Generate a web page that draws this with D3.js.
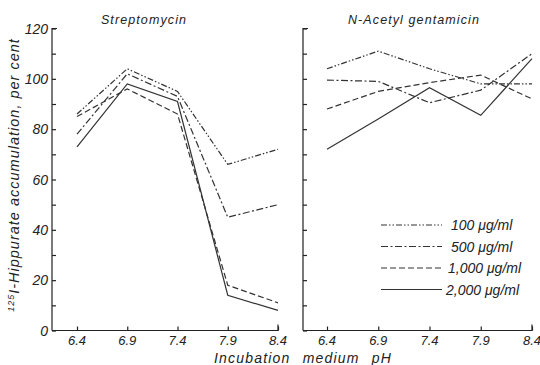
<!DOCTYPE html>
<html>
<head>
<meta charset="utf-8">
<script src="https://cdn.jsdelivr.net/npm/d3@7"></script>
<style>
  body { margin: 0; background: #fff; }
  text { font-family: "Liberation Sans", Arial, sans-serif; font-style: italic; fill: #222; }
  .axis path, .axis line { stroke: #222; stroke-width: 1.2; }
</style>
</head>
<body>
<div id="chart"></div>
<script>
const phLevels = [6.4, 6.9, 7.4, 7.9, 8.4];
const yTickLabels = [0, 20, 40, 60, 80, 100, 120];
const doses = ["100 \u03bcg/ml", "500 \u03bcg/ml", "1,000 \u03bcg/ml", "2,000 \u03bcg/ml"];
const dashes = ["6,2,1.5,2,1.5,2", "7,2.5,2,2.5", "6,3", null];

// Streptomycin, per cent by dose
const strepto100 = [86, 104, 95, 66, 72];
const strepto500 = [78, 102, 93, 45, 50];
const strepto1000 = [85, 96, 86, 18, 11];
const strepto2000 = [73, 98, 91, 14, 8];

// N-Acetyl gentamicin
const acetyl100 = [104, 111, 104, 98, 98];
const acetyl500 = [99.5, 99, 90.5, 95.5, 110];
const acetyl1000 = [88, 95, 98.5, 101.5, 92];
const acetyl2000 = [72, 84, 96.5, 85.5, 108];

const panels = [
  { title: "Streptomycin", series: [strepto100, strepto500, strepto1000, strepto2000],
    axisX: 52, range: [77, 278], titleX: 144, labels: true },
  { title: "N-Acetyl gentamicin", series: [acetyl100, acetyl500, acetyl1000, acetyl2000],
    axisX: 303, range: [327, 532], titleX: 414, labels: false }
];

const width = 540, height = 365;
const svg = d3.select("#chart").append("svg")
  .attr("width", width)
  .attr("height", height);

let yScale = d3.scaleLinear().domain([0, 120]).range([330.5, 28.5]);

panels.forEach(function(p) {
  let xScale = d3.scalePoint().domain(phLevels).range(p.range);

  // y axis, ticks pointing inward
  let yAxis = svg.append("g")
    .attr("class", "axis")
    .attr("transform", "translate(" + p.axisX + ",0)")
    .call(d3.axisRight(yScale).tickValues(d3.range(0, 121, 10)).tickSize(4).tickSizeOuter(0).tickFormat(""));
  yAxis.select(".domain").attr("d", "M0," + yScale(0) + "V" + yScale(120) + "H5");

  if (p.labels) {
    svg.append("g").selectAll("text")
      .data(yTickLabels)
      .enter().append("text")
      .attr("x", p.axisX - 4)
      .attr("y", function(d) { return yScale(d) + 5; })
      .attr("text-anchor", "end")
      .style("font-size", "14px")
      .text(function(d) { return d; });
  }

  // x axis
  let xAxis = svg.append("g")
    .attr("class", "axis")
    .attr("transform", "translate(0," + yScale(0) + ")")
    .call(d3.axisTop(xScale).tickSize(4).tickSizeOuter(0).tickFormat(""));
  xAxis.select(".domain").attr("d", "M" + p.axisX + ",0H" + p.range[1] + "V-6");

  svg.append("g").selectAll("text")
    .data(phLevels)
    .enter().append("text")
    .attr("x", function(d) { return xScale(d); })
    .attr("y", 345)
    .attr("text-anchor", "middle")
    .style("font-size", "13px")
    .text(function(d) { return d.toFixed(1); });

  svg.append("text")
    .attr("x", p.titleX)
    .attr("y", 24)
    .attr("text-anchor", "middle")
    .style("font-size", "12.5px")
    .style("letter-spacing", "1.1px")
    .text(p.title);

  let line = d3.line()
    .x(function(d, i) { return xScale(phLevels[i]); })
    .y(function(d) { return yScale(d); });

  svg.append("g").selectAll("path")
    .data(p.series)
    .enter().append("path")
    .attr("d", line)
    .attr("fill", "none")
    .attr("stroke", "#333")
    .attr("stroke-width", 1.2)
    .attr("stroke-dasharray", function(d, i) { return dashes[i]; });
});

// legend
let legend = svg.append("g");
doses.forEach(function(name, i) {
  let y = 225 + i * 21.5;
  legend.append("line")
    .attr("x1", 381).attr("x2", 442)
    .attr("y1", y).attr("y2", y)
    .attr("stroke", "#333")
    .attr("stroke-width", 1.2)
    .attr("stroke-dasharray", dashes[i]);
  legend.append("text")
    .attr("x", i < 2 ? 451 : (i == 2 ? 448 : 446))
    .attr("y", y + 5)
    .style("font-size", "14px")
    .text(name);
});

// axis titles
svg.append("text")
  .attr("x", 303)
  .attr("y", 363)
  .attr("text-anchor", "middle")
  .style("font-size", "14px")
  .style("letter-spacing", "1.2px")
  .style("word-spacing", "7px")
  .text("Incubation medium pH");

let yLabel = svg.append("text")
  .attr("transform", "translate(19,175) rotate(-90)")
  .attr("text-anchor", "middle")
  .style("font-size", "14.5px")
  .style("letter-spacing", "1px");
yLabel.append("tspan").attr("baseline-shift", "super").style("font-size", "9px").text("125");
yLabel.append("tspan").text("I-Hippurate accumulation, per cent");
</script>
</body>
</html>
